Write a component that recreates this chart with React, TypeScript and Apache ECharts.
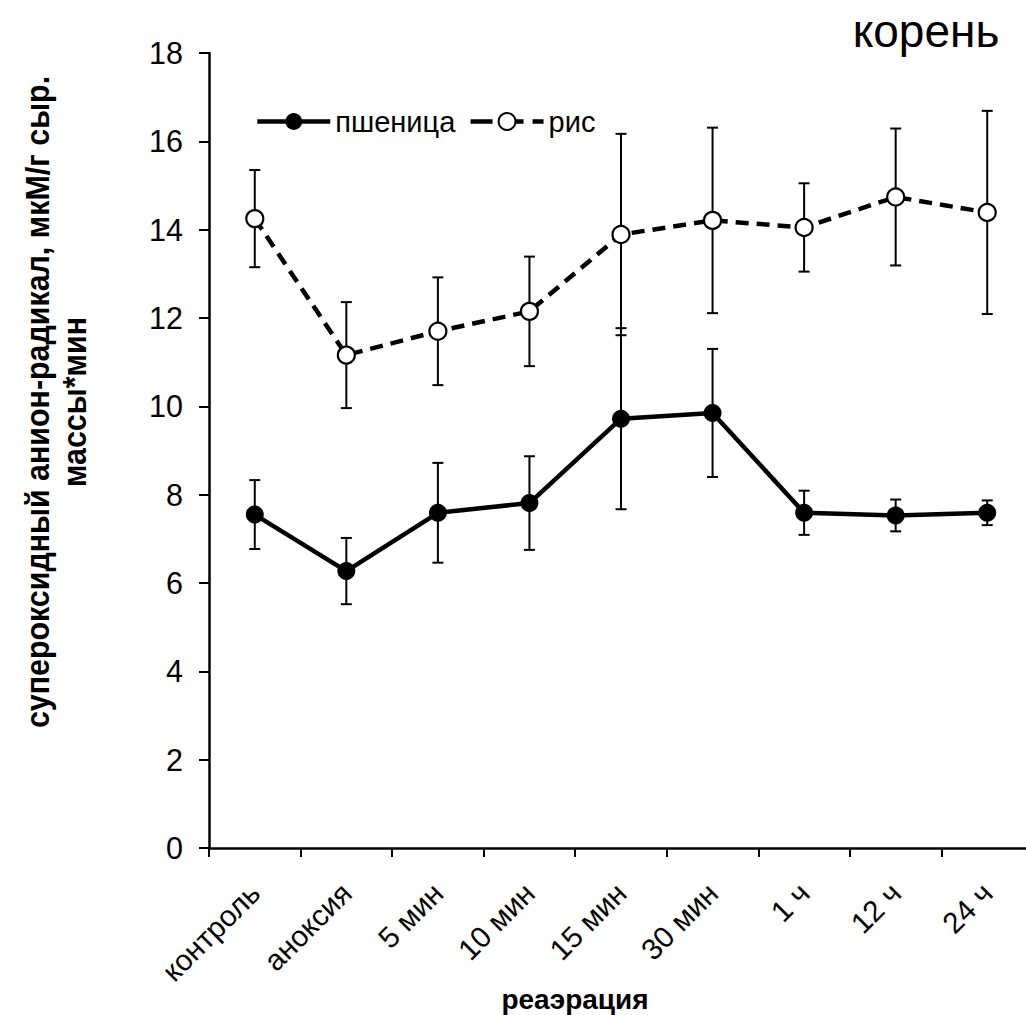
import React, { useEffect, useRef } from "react";
import * as echarts from "echarts";

const categories = ["контроль", "аноксия", "5 мин", "10 мин", "15 мин", "30 мин", "1 ч", "12 ч", "24 ч"];
const wheat = [7.55, 6.27, 7.59, 7.81, 9.72, 9.85, 7.59, 7.53, 7.59];
const wheatErr = [0.78, 0.75, 1.13, 1.06, 2.05, 1.45, 0.5, 0.36, 0.28];
const rice = [14.25, 11.16, 11.7, 12.15, 13.89, 14.21, 14.05, 14.74, 14.39];
const riceErr = [1.1, 1.2, 1.22, 1.24, 2.28, 2.1, 1.0, 1.55, 2.3];
const yTicks = { min: 0, max: 18, interval: 2 };
const seriesNames = ["пшеница", "рис"];
const yTitle = "супероксидный анион-радикал, мкМ/г сыр.\nмассы*мин";
const xTitle = "реаэрация";
const panelTitle = "корень";

const FONT = "'Liberation Sans', Arial, sans-serif";

function errData(vals: number[], errs: number[]) {
  return vals.map((v, i) => [i, v - errs[i], v + errs[i]]);
}

function errRender(params: any, api: any) {
  const i = api.value(0);
  const lo = api.coord([i, api.value(1)]);
  const hi = api.coord([i, api.value(2)]);
  const w = 5.5;
  const style = { stroke: "#000", lineWidth: 2 };
  return {
    type: "group",
    children: [
      { type: "line", shape: { x1: hi[0], y1: hi[1], x2: lo[0], y2: lo[1] }, style },
      { type: "line", shape: { x1: hi[0] - w, y1: hi[1], x2: hi[0] + w, y2: hi[1] }, style },
      { type: "line", shape: { x1: lo[0] - w, y1: lo[1], x2: lo[0] + w, y2: lo[1] }, style },
    ],
  };
}

export default function App() {
  const ref = useRef<HTMLDivElement>(null);
  useEffect(() => {
    if (!ref.current) return;
    const chart = echarts.init(ref.current, null, { renderer: "svg" });
    chart.setOption({
      animation: false,
      backgroundColor: "#fff",
      textStyle: { fontFamily: FONT, color: "#000" },
      grid: { left: 209, top: 53, width: 824, height: 795, outerBoundsMode: "none", containLabel: false },
      legend: {
        left: 255,
        top: 107,
        padding: 0,
        itemWidth: 73,
        itemHeight: 21,
        itemGap: 13,
        textStyle: { fontSize: 29, fontFamily: FONT, color: "#000" },
        data: [
          { name: seriesNames[0], lineStyle: { width: 4.5, type: "solid", color: "#000" } },
          { name: seriesNames[1], lineStyle: { width: 4.5, type: [22, 9], color: "#000" } },
        ],
      },
      xAxis: {
        type: "category",
        data: categories,
        boundaryGap: true,
        axisLine: { lineStyle: { color: "#000", width: 2.5 } },
        axisTick: { show: true, length: 9, lineStyle: { color: "#000", width: 2 }, alignWithLabel: false },
        axisLabel: { rotate: 45, fontSize: 29.5, color: "#000", margin: 40, fontFamily: FONT, interval: 0 },
        splitLine: { show: false },
      },
      yAxis: {
        type: "value",
        min: yTicks.min,
        max: yTicks.max,
        interval: yTicks.interval,
        axisLine: { show: true, lineStyle: { color: "#000", width: 2.5 } },
        axisTick: { show: true, length: 10, lineStyle: { color: "#000", width: 2 } },
        axisLabel: { fontSize: 30.5, color: "#000", margin: 26, fontFamily: FONT },
        splitLine: { show: false },
      },
      graphic: [
        {
          type: "text",
          x: 56,
          y: 402,
          rotation: Math.PI / 2,
          scaleX: 0.95,
          scaleY: 1.05,
          style: {
            text: yTitle,
            font: `bold 32px ${FONT}`,
            fill: "#000",
            textAlign: "center",
            textVerticalAlign: "middle",
            lineHeight: 36,
          },
        },
        {
          type: "text",
          x: 575,
          y: 999,
          style: {
            text: xTitle,
            font: `bold 28px ${FONT}`,
            fill: "#000",
            textAlign: "center",
            textVerticalAlign: "middle",
          },
        },
        {
          type: "text",
          x: 926,
          y: 31,
          style: {
            text: panelTitle,
            font: `46px ${FONT}`,
            fill: "#000",
            textAlign: "center",
            textVerticalAlign: "middle",
          },
        },
      ],
      series: [
        {
          type: "custom",
          name: "errW",
          renderItem: errRender,
          data: errData(wheat, wheatErr),
          z: 1,
          silent: true,
        },
        {
          type: "custom",
          name: "errR",
          renderItem: errRender,
          data: errData(rice, riceErr),
          z: 1,
          silent: true,
        },
        {
          type: "line",
          name: seriesNames[0],
          data: wheat,
          symbol: "circle",
          symbolSize: 18,
          lineStyle: { color: "#000", width: 4.5 },
          itemStyle: { color: "#000", borderColor: "#000", borderWidth: 0 },
          z: 3,
        },
        {
          type: "line",
          name: seriesNames[1],
          data: rice,
          symbol: "circle",
          symbolSize: 17,
          lineStyle: { color: "#000", width: 4.5, type: [13, 8] },
          itemStyle: { color: "#fff", borderColor: "#000", borderWidth: 2.2 },
          z: 3,
        },
      ],
    });
    return () => chart.dispose();
  }, []);
  return (
    <div
      ref={ref}
      style={{ position: "absolute", left: 0, top: 0, width: 1026, height: 1015 }}
    />
  );
}
